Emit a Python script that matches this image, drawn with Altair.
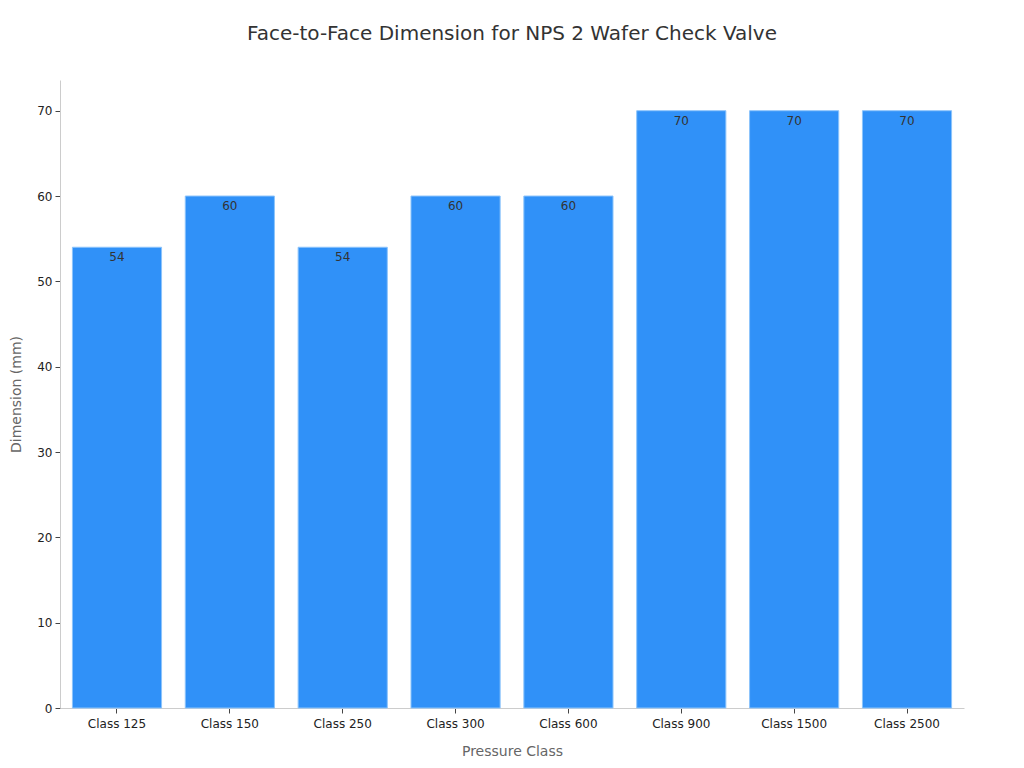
import altair as alt
import pandas as pd

categories = ["Class 125", "Class 150", "Class 250", "Class 300", "Class 600", "Class 900", "Class 1500", "Class 2500"]
values = [54, 60, 54, 60, 60, 70, 70, 70]

df = pd.DataFrame({"cls": categories, "dim": values})

font = "DejaVu Sans"

base = alt.Chart(df).encode(
    x=alt.X("cls:N", sort=categories, title="Pressure Class",
            scale=alt.Scale(paddingInner=0.21, paddingOuter=0.11),
            axis=alt.Axis(labelAngle=0, labelFontSize=12, labelColor="#222", labelFont=font,
                          titleFont=font, titleFontSize=14, titleColor="#666", titleFontWeight="normal",
                          titlePadding=15, domainColor="#ccc", tickColor="#444", tickSize=5, labelPadding=5)),
    y=alt.Y("dim:Q", title="Dimension (mm)",
            scale=alt.Scale(domain=[0, 73.6], nice=False),
            axis=alt.Axis(values=[0, 10, 20, 30, 40, 50, 60, 70], grid=False, labelFontSize=12,
                          labelColor="#222", labelFont=font, titleFont=font, titleFontSize=14,
                          titleColor="#666", titleFontWeight="normal", titlePadding=13,
                          domainColor="#ccc", tickColor="#444", tickSize=5, labelPadding=3)),
)

bars = base.mark_bar(color="#3091F8", stroke="#8cc4fb", strokeWidth=1)
labels = base.mark_text(baseline="top", dy=5, fontSize=12, color="#333", font=font).encode(text="dim:Q")

chart = (bars + labels).properties(
    width=904, height=628,
    title=alt.TitleParams("Face-to-Face Dimension for NPS 2 Wafer Check Valve", fontSize=20,
                          font=font, color="#333", fontWeight="normal", anchor="middle", offset=36),
    autosize=alt.AutoSizeParams(type="none"),
    padding={"left": 52, "top": 72, "right": 52, "bottom": 52},
).configure_view(stroke=None)

chart.save("out.html", embed_options={"renderer": "svg", "actions": False})
